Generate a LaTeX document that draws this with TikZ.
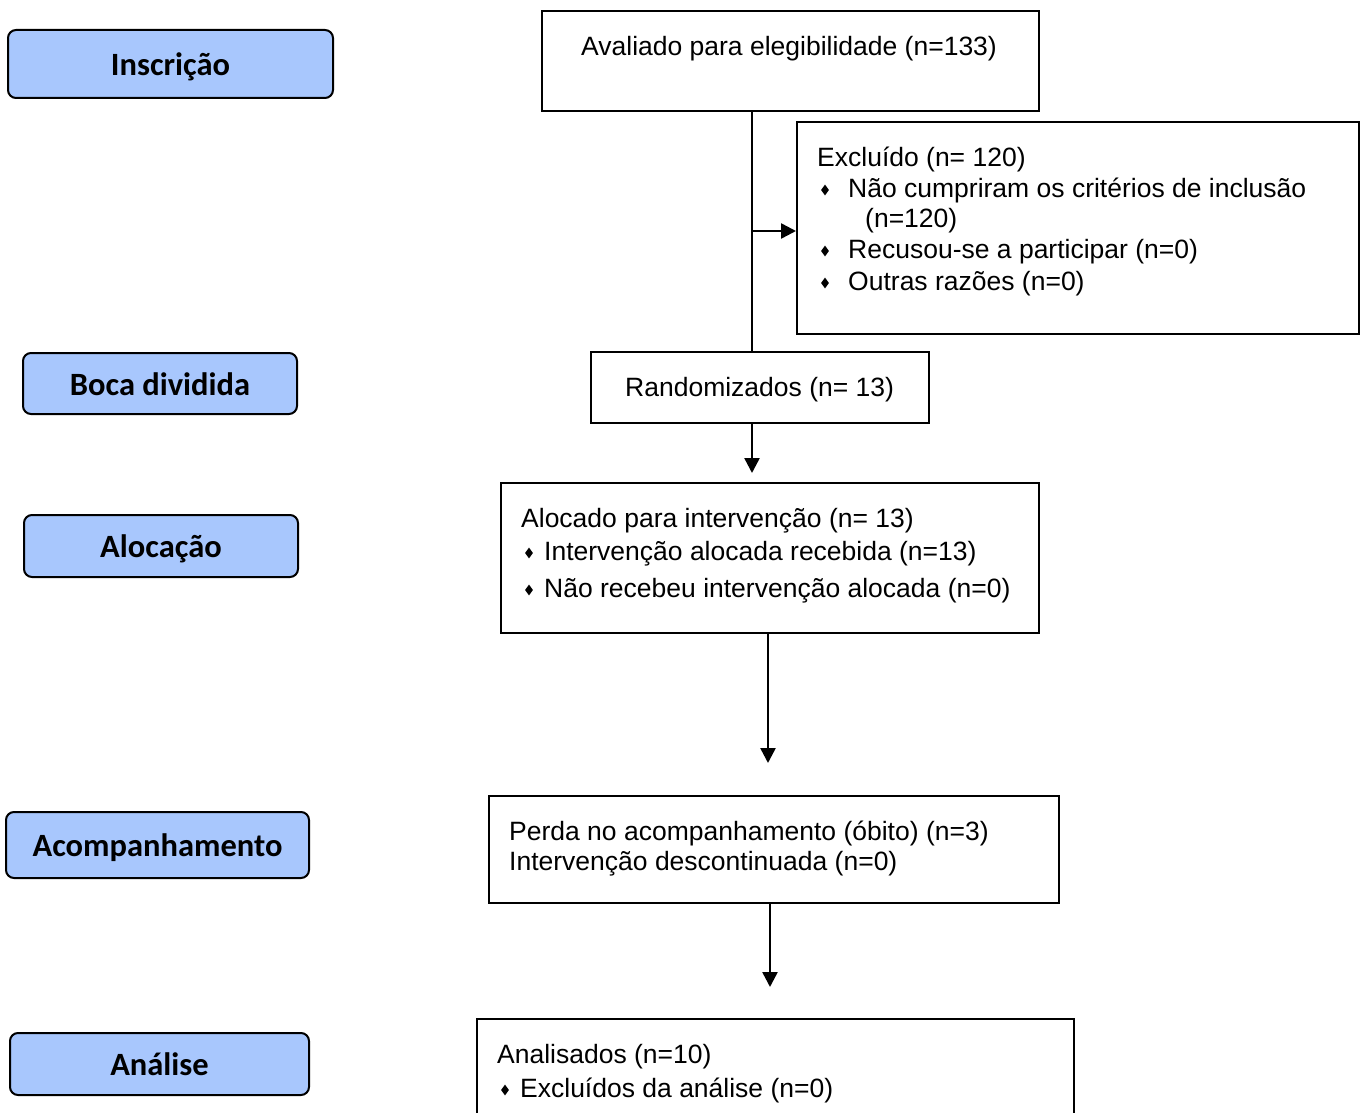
\documentclass[tikz,border=0pt]{standalone}
\usepackage{fontspec}
\setmainfont{Liberation Sans}
\newfontfamily\labfont{Carlito}
\usetikzlibrary{arrows.meta,shapes.geometric}
\definecolor{labblue}{RGB}{168,199,253}
\begin{document}
\begin{tikzpicture}[x=1pt,y=-1pt,
  stage/.style={draw=black,line width=2pt,rounded corners=8pt,fill=labblue,
    font=\labfont\bfseries\fontsize{32.5}{38}\selectfont,inner sep=0pt,
    text height=23pt,text depth=0pt},
  box/.style={draw=black,line width=2pt,inner sep=0pt,anchor=north west},
  txt/.style={anchor=base west,inner sep=0pt,font=\fontsize{26.5}{31}\selectfont},
  bul/.style={diamond,fill=black,inner sep=0pt,minimum width=8pt,minimum height=11pt},
  arr/.style={line width=2.5pt,-{Triangle[length=15pt,width=15pt]}},
  ln/.style={line width=2.5pt}]
\useasboundingbox (0,0) rectangle (1366,1113);
\clip (0,0) rectangle (1366,1113);
% stage labels
\node[stage,minimum width=325pt,minimum height=68pt] (s1) at (170.5,64) {Inscrição};
\node[stage,minimum width=274pt,minimum height=61pt] (s2) at (160,383.5) {Boca dividida};
\node[stage,minimum width=274pt,minimum height=62pt] (s3) at (161,546) {Alocação};
\node[stage,minimum width=303pt,minimum height=66pt] (s4) at (157.5,845) {Acompanhamento};
\node[stage,minimum width=299pt,minimum height=62pt] (s5) at (159.5,1064) {Análise};
% boxes
\node[box,minimum width=497pt,minimum height=100pt] (aval) at (541,10) {};
\node[box,minimum width=562pt,minimum height=212pt] (excl) at (796,121) {};
\node[box,minimum width=338pt,minimum height=71pt] (rand) at (590,351) {};
\node[box,minimum width=538pt,minimum height=150pt] (aloc) at (500,482) {};
\node[box,minimum width=570pt,minimum height=107pt] (perd) at (488,795) {};
\node[box,minimum width=597pt,minimum height=130pt] (anal) at (476,1018) {};
% texts
\node[txt] (t1) at (581,55.5) {Avaliado para elegibilidade (n=133)};
\node[txt] (t2) at (817,166.5) {Excluído (n= 120)};
\node[txt] (t3) at (848,197.5) {Não cumpriram os critérios de inclusão};
\node[txt] (t4) at (865,227.5) {(n=120)};
\node[txt] (t5) at (848,258.5) {Recusou-se a participar (n=0)};
\node[txt] (t6) at (848,290.5) {Outras razões (n=0)};
\node[bul] (b1) at (825,190) {};
\node[bul] (b2) at (825,251) {};
\node[bul] (b3) at (825,283) {};
\node[txt] (t7) at (625,396.5) {Randomizados (n= 13)};
\node[txt] (t8) at (521,527.5) {Alocado para intervenção (n= 13)};
\node[txt] (t9) at (544,560.5) {Intervenção alocada recebida (n=13)};
\node[txt] (t10) at (544,597.5) {Não recebeu intervenção alocada (n=0)};
\node[bul] (b4) at (529,553) {};
\node[bul] (b5) at (529,590) {};
\node[txt] (t11) at (509,840.5) {Perda no acompanhamento (óbito) (n=3)};
\node[txt] (t12) at (509,870.5) {Intervenção descontinuada (n=0)};
\node[txt] (t13) at (497,1063.5) {Analisados (n=10)};
\node[txt] (t14) at (520,1097.5) {Excluídos da análise (n=0)};
\node[bul] (b6) at (505,1090) {};
% connectors
\coordinate (j) at (752,231);
\draw[ln] (j |- aval.south) -- (j |- rand.north);
\draw[arr] (j) -- (j -| excl.west);
\draw[arr,shorten >=9pt] (j |- rand.south) -- (j |- aloc.north);
\coordinate (k) at (768,700);
\draw[arr,shorten >=32pt] (k |- aloc.south) -- (k |- perd.north);
\coordinate (m) at (770,950);
\draw[arr,shorten >=31pt] (m |- perd.south) -- (m |- anal.north);
\end{tikzpicture}
\end{document}
